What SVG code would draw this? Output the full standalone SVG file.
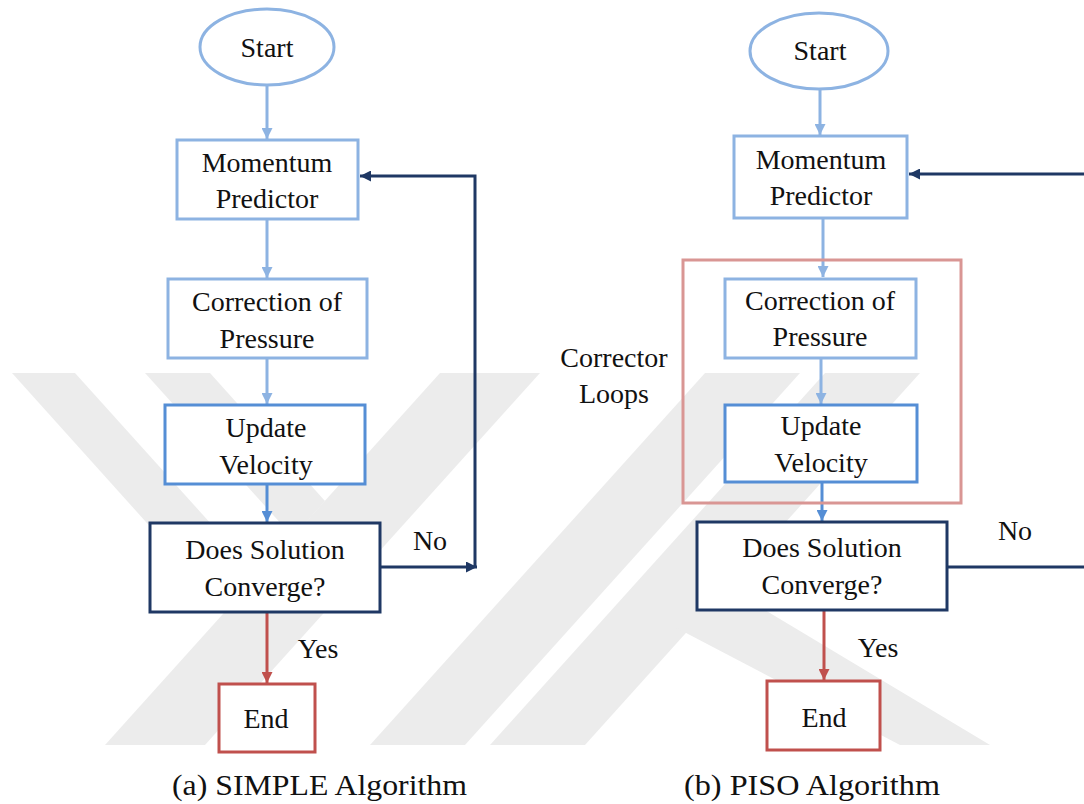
<svg xmlns="http://www.w3.org/2000/svg" width="1084" height="804" viewBox="0 0 1084 804">
  <defs>
    <style>
      .bg { fill: #ffffff; }
      .wm { fill: #ececec; }
      .lbl { font-size: 28px; fill: #111111; text-anchor: middle; }
      .cap { font-size: 29px; fill: #111111; }
      .light { fill: #ffffff; stroke: #8db3e2; stroke-width: 3; }
      .mid { fill: #ffffff; stroke: #558ed5; stroke-width: 3; }
      .navy { fill: #ffffff; stroke: #1f3864; stroke-width: 3; }
      .red { fill: #ffffff; stroke: #c0504d; stroke-width: 3; }
      .pink { fill: none; stroke: #d99694; stroke-width: 3; }
      .c-light { stroke: #8db3e2; stroke-width: 3; fill: none; }
      .c-mid { stroke: #558ed5; stroke-width: 3; fill: none; }
      .c-navy { stroke: #1f3864; stroke-width: 3; fill: none; }
      .c-red { stroke: #c0504d; stroke-width: 3; fill: none; }
    </style>
    <marker id="ah-light" viewBox="0 0 10 10" refX="10" refY="5" markerWidth="11" markerHeight="11" markerUnits="userSpaceOnUse" orient="auto">
      <path d="M0,0 L10,5 L0,10 z" fill="#8db3e2"/>
    </marker>
    <marker id="ah-mid" viewBox="0 0 10 10" refX="10" refY="5" markerWidth="11" markerHeight="11" markerUnits="userSpaceOnUse" orient="auto">
      <path d="M0,0 L10,5 L0,10 z" fill="#558ed5"/>
    </marker>
    <marker id="ah-navy" viewBox="0 0 10 10" refX="10" refY="5" markerWidth="11" markerHeight="11" markerUnits="userSpaceOnUse" orient="auto">
      <path d="M0,0 L10,5 L0,10 z" fill="#1f3864"/>
    </marker>
    <marker id="ah-red" viewBox="0 0 10 10" refX="10" refY="5" markerWidth="11" markerHeight="11" markerUnits="userSpaceOnUse" orient="auto">
      <path d="M0,0 L10,5 L0,10 z" fill="#c0504d"/>
    </marker>
  </defs>

  <rect class="bg" x="0" y="0" width="1084" height="804"/>

  <!-- faint background emblem -->
  <g id="emblem">
    <polygon class="wm" points="12,373 75,373 258,576 226,611"/>
    <polygon class="wm" points="145,373 210,373 325,501 293,537"/>
    <polygon class="wm" points="440,373 540,373 205,745 105,745"/>
    <polygon class="wm" points="705,373 800,373 465,745 370,745"/>
    <polygon class="wm" points="825,373 920,373 585,745 490,745"/>
    <polygon class="wm" points="667,623 728,588 990,745 900,745"/>
  </g>

  <!-- connectors -->
  <g id="connectors">
    <!-- SIMPLE -->
    <line class="c-light" x1="267" y1="86" x2="267" y2="139" marker-end="url(#ah-light)"/>
    <line class="c-light" x1="267" y1="220" x2="267" y2="278" marker-end="url(#ah-light)"/>
    <line class="c-light" x1="267" y1="359" x2="267" y2="404" marker-end="url(#ah-light)"/>
    <line class="c-mid" x1="267" y1="485" x2="267" y2="522" marker-end="url(#ah-mid)"/>
    <line class="c-red" x1="267" y1="613" x2="267" y2="683" marker-end="url(#ah-red)"/>
    <line class="c-navy" x1="381" y1="567" x2="477" y2="567" marker-end="url(#ah-navy)"/>
    <polyline class="c-navy" points="475,568 475,176 360,176" marker-end="url(#ah-navy)"/>
    <!-- PISO -->
    <line class="c-light" x1="820" y1="90" x2="820" y2="135" marker-end="url(#ah-light)"/>
    <line class="c-light" x1="823" y1="219" x2="823" y2="277" marker-end="url(#ah-light)"/>
    <line class="c-light" x1="821" y1="359" x2="821" y2="404" marker-end="url(#ah-light)"/>
    <line class="c-mid" x1="822" y1="483" x2="822" y2="521" marker-end="url(#ah-mid)"/>
    <line class="c-red" x1="824" y1="611" x2="824" y2="680" marker-end="url(#ah-red)"/>
    <line class="c-navy" x1="948" y1="567" x2="1084" y2="567"/>
    <line class="c-navy" x1="1084" y1="174" x2="909" y2="174" marker-end="url(#ah-navy)"/>
  </g>

  <g font-family="Liberation Serif, DejaVu Serif, Times New Roman, serif">
  <!-- SIMPLE algorithm -->
  <g id="simple-start">
    <ellipse class="light" cx="267" cy="47" rx="67" ry="38"/>
    <text class="lbl" x="267" y="57">Start</text>
  </g>
  <g id="simple-momentum">
    <rect class="light" x="177" y="140" width="181" height="79"/>
    <text class="lbl" x="267" y="172">Momentum</text>
    <text class="lbl" x="267" y="208">Predictor</text>
  </g>
  <g id="simple-pressure">
    <rect class="light" x="168" y="279" width="199" height="79"/>
    <text class="lbl" x="267" y="311">Correction of</text>
    <text class="lbl" x="267" y="348">Pressure</text>
  </g>
  <g id="simple-velocity">
    <rect class="mid" x="165" y="405" width="200" height="79"/>
    <text class="lbl" x="266" y="437">Update</text>
    <text class="lbl" x="266" y="474">Velocity</text>
  </g>
  <g id="simple-converge">
    <rect class="navy" x="150" y="523" width="230" height="89"/>
    <text class="lbl" x="265" y="559">Does Solution</text>
    <text class="lbl" x="265" y="596">Converge?</text>
  </g>
  <g id="simple-end">
    <rect class="red" x="219" y="684" width="96" height="68"/>
    <text class="lbl" x="266" y="728">End</text>
  </g>
  <g id="simple-labels">
    <text class="lbl" x="430" y="550">No</text>
    <text class="lbl" x="318" y="658">Yes</text>
  </g>

  <!-- PISO algorithm -->
  <g id="piso-start">
    <ellipse class="light" cx="819" cy="51" rx="69" ry="38"/>
    <text class="lbl" x="820" y="60">Start</text>
  </g>
  <g id="piso-momentum">
    <rect class="light" x="734" y="136" width="173" height="82"/>
    <text class="lbl" x="821" y="169">Momentum</text>
    <text class="lbl" x="821" y="205">Predictor</text>
  </g>
  <g id="piso-corrector-loops">
    <rect class="pink" x="683" y="260" width="278" height="243"/>
    <text class="lbl" x="614" y="367">Corrector</text>
    <text class="lbl" x="614" y="403">Loops</text>
  </g>
  <g id="piso-pressure">
    <rect class="light" x="725" y="279" width="191" height="79"/>
    <text class="lbl" x="820" y="310">Correction of</text>
    <text class="lbl" x="820" y="346">Pressure</text>
  </g>
  <g id="piso-velocity">
    <rect class="mid" x="725" y="405" width="192" height="77"/>
    <text class="lbl" x="821" y="435">Update</text>
    <text class="lbl" x="821" y="472">Velocity</text>
  </g>
  <g id="piso-converge">
    <rect class="navy" x="697" y="522" width="250" height="88"/>
    <text class="lbl" x="822" y="557">Does Solution</text>
    <text class="lbl" x="822" y="594">Converge?</text>
  </g>
  <g id="piso-end">
    <rect class="red" x="767" y="681" width="113" height="69"/>
    <text class="lbl" x="824" y="727">End</text>
  </g>
  <g id="piso-labels">
    <text class="lbl" x="1015" y="540">No</text>
    <text class="lbl" x="878" y="657">Yes</text>
  </g>

  <!-- sub-figure captions -->
  <g id="captions">
    <text class="cap" x="172" y="795" textLength="295" lengthAdjust="spacingAndGlyphs">(a) SIMPLE Algorithm</text>
    <text class="cap" x="684" y="795" textLength="256" lengthAdjust="spacingAndGlyphs">(b) PISO Algorithm</text>
  </g>
  </g>
</svg>
